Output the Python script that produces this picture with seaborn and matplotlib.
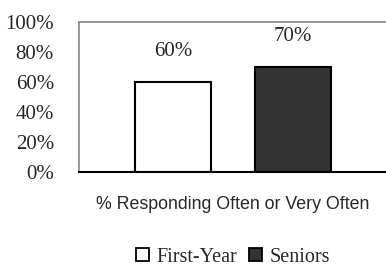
import matplotlib
matplotlib.use("Agg")
import matplotlib.pyplot as plt
import seaborn as sns
import pandas as pd
from matplotlib.patches import Patch

groups = ["First-Year", "Seniors"]
values = [60, 70]
colors = ["#FFFFFF", "#333333"]
yticks = [0, 20, 40, 60, 80, 100]
xlabel = "% Responding Often or Very Often"

sns.set_style("white")
plt.rcParams["font.family"] = ["Liberation Serif", "DejaVu Sans"]

df = pd.DataFrame({"group": groups, "value": values})

fig = plt.figure(figsize=(3.86, 2.68), dpi=100)
ax = fig.add_axes([79/386, 1 - 172/268, 1 - 79/386, 150/268])

sns.barplot(data=df, x="group", y="value", hue="group", order=groups,
            hue_order=groups, palette=colors, width=0.633,
            edgecolor="black", linewidth=1.5, legend=False, ax=ax)

for p, v in zip(ax.patches, values):
    ax.text(p.get_x() + p.get_width() / 2, v + 20.5, f"{v}%",
            ha="center", va="center", fontsize=15)

ax.set_xlim(-0.783, 1.775)
ax.set_ylim(0, 100)
ax.set_yticks(yticks)
ax.set_yticklabels([f"{t}%" for t in yticks], fontsize=15)
ax.set_xticks([])
ax.set_xlabel(xlabel, fontsize=12.8, family="Liberation Sans", labelpad=17)
ax.set_ylabel("")
ax.tick_params(axis="y", length=0, pad=18)

for s in ["left", "top"]:
    ax.spines[s].set_color("#888888")
    ax.spines[s].set_linewidth(1.2)
ax.spines["right"].set_visible(False)
ax.spines["bottom"].set_color("black")
ax.spines["bottom"].set_linewidth(1.5)

handles = [Patch(facecolor=c, edgecolor="black", linewidth=1.3) for c in colors]
fig.legend(handles, groups, loc="center", bbox_to_anchor=(233/386, 1 - 257/268),
           ncol=2, frameon=False, fontsize=14.5, handlelength=0.65, handleheight=0.65,
           handletextpad=0.35, columnspacing=0.6, borderpad=0)

fig.savefig("out.png", dpi=100)
